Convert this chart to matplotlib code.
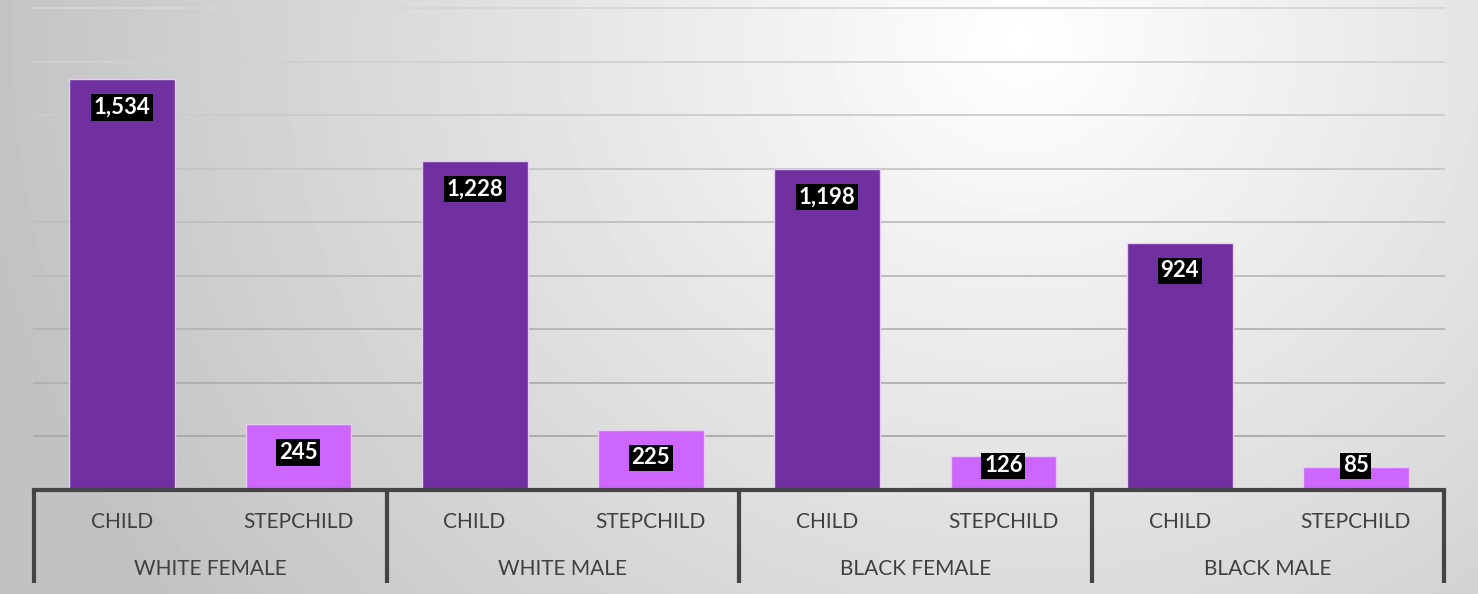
import numpy as np
import matplotlib
matplotlib.use('Agg')
import matplotlib.pyplot as plt
from matplotlib.colors import to_rgb

# data
groups = ['WHITE FEMALE', 'WHITE MALE', 'BLACK FEMALE', 'BLACK MALE']
relations = ['CHILD', 'STEPCHILD']
child_values = [1534, 1228, 1198, 924]
stepchild_values = [245, 225, 126, 85]

CHILD_COLOR = '#7030A0'
STEP_COLOR = '#CC66FF'
TEXT_COLOR = '#404040'

plt.rcParams['font.family'] = ['Lato', 'DejaVu Sans']


def background(fig):
    """
    Radial grey-to-white gradient behind the whole chart
    """
    bg = fig.add_axes([0, 0, 1, 1], zorder=-10)
    h, w = 594, 1478
    yy, xx = np.mgrid[0:h, 0:w]
    dist = np.hypot(xx - 1020, (yy - 40) * 1.1)
    shade = np.clip(1.0 - dist / 1050 * 0.24, 0.76, 1.0)
    bg.imshow(shade, cmap='gray', vmin=0, vmax=1, aspect='auto',
              extent=[0, 1, 0, 1], interpolation='bilinear')
    bg.set_axis_off()


def main():
    fig = plt.figure(figsize=(14.78, 5.94), dpi=100)
    background(fig)

    ax = fig.add_axes([34 / 1478, 1 - 490 / 594, 1410 / 1478, 482 / 594])
    ax.set_facecolor('none')

    values = []
    colors = []
    for c, s in zip(child_values, stepchild_values):
        values += [c, s]
        colors += [CHILD_COLOR, STEP_COLOR]
    xs = np.arange(len(values))

    ax.bar(xs, values, width=0.6, color=colors, edgecolor='#e6ccf5',
           linewidth=1, zorder=3)

    #value labels in black boxes near the top of each bar
    for x, v in zip(xs, values):
        ax.text(x, max(v - 105, 90), f'{v:,}', ha='center', va='center',
                color='white', fontsize=16, fontweight='bold', zorder=5,
                bbox=dict(boxstyle='square,pad=0.12', fc='black', ec='none'))

    ax.set_xlim(-0.5, len(values) - 0.5)
    ax.set_ylim(0, 1800)
    ax.set_yticks(np.arange(0, 1801, 200))
    ax.set_yticklabels([])
    ax.tick_params(axis='y', length=0)
    ax.yaxis.grid(True, linewidth=1.3, zorder=0)
    # gridlines fade lighter towards the top
    top, bottom = np.array(to_rgb('#d6d6d6')), np.array(to_rgb('#a3a3a3'))
    lines = ax.get_ygridlines()
    for i, line in enumerate(lines):
        t = i / (len(lines) - 1)
        line.set_color(bottom * (1 - t) + top * t)
        line.set_clip_on(False)
    ax.set_axisbelow(True)

    for side in ['left', 'right', 'top']:
        ax.spines[side].set_visible(False)
    ax.spines['bottom'].set_color('#444444')
    ax.spines['bottom'].set_linewidth(3)
    ax.spines['bottom'].set_zorder(6)

    ax.set_xticks(xs)
    ax.set_xticklabels(relations * len(groups), fontsize=15, color=TEXT_COLOR)
    ax.tick_params(axis='x', length=0, pad=16)

    trans = ax.get_xaxis_transform()
    for i, g in enumerate(groups):
        ax.text(2 * i + 0.5, -0.164, g, transform=trans, ha='center',
                va='center', fontsize=15, color=TEXT_COLOR)
    for b in np.arange(-0.5, len(values), 2):
        ax.plot([b, b], [0, -0.193], transform=trans, color='#444444',
                linewidth=3, clip_on=False, zorder=6, solid_capstyle='butt')

    fig.savefig('out.png', dpi=100)


if __name__ == '__main__':
    main()
